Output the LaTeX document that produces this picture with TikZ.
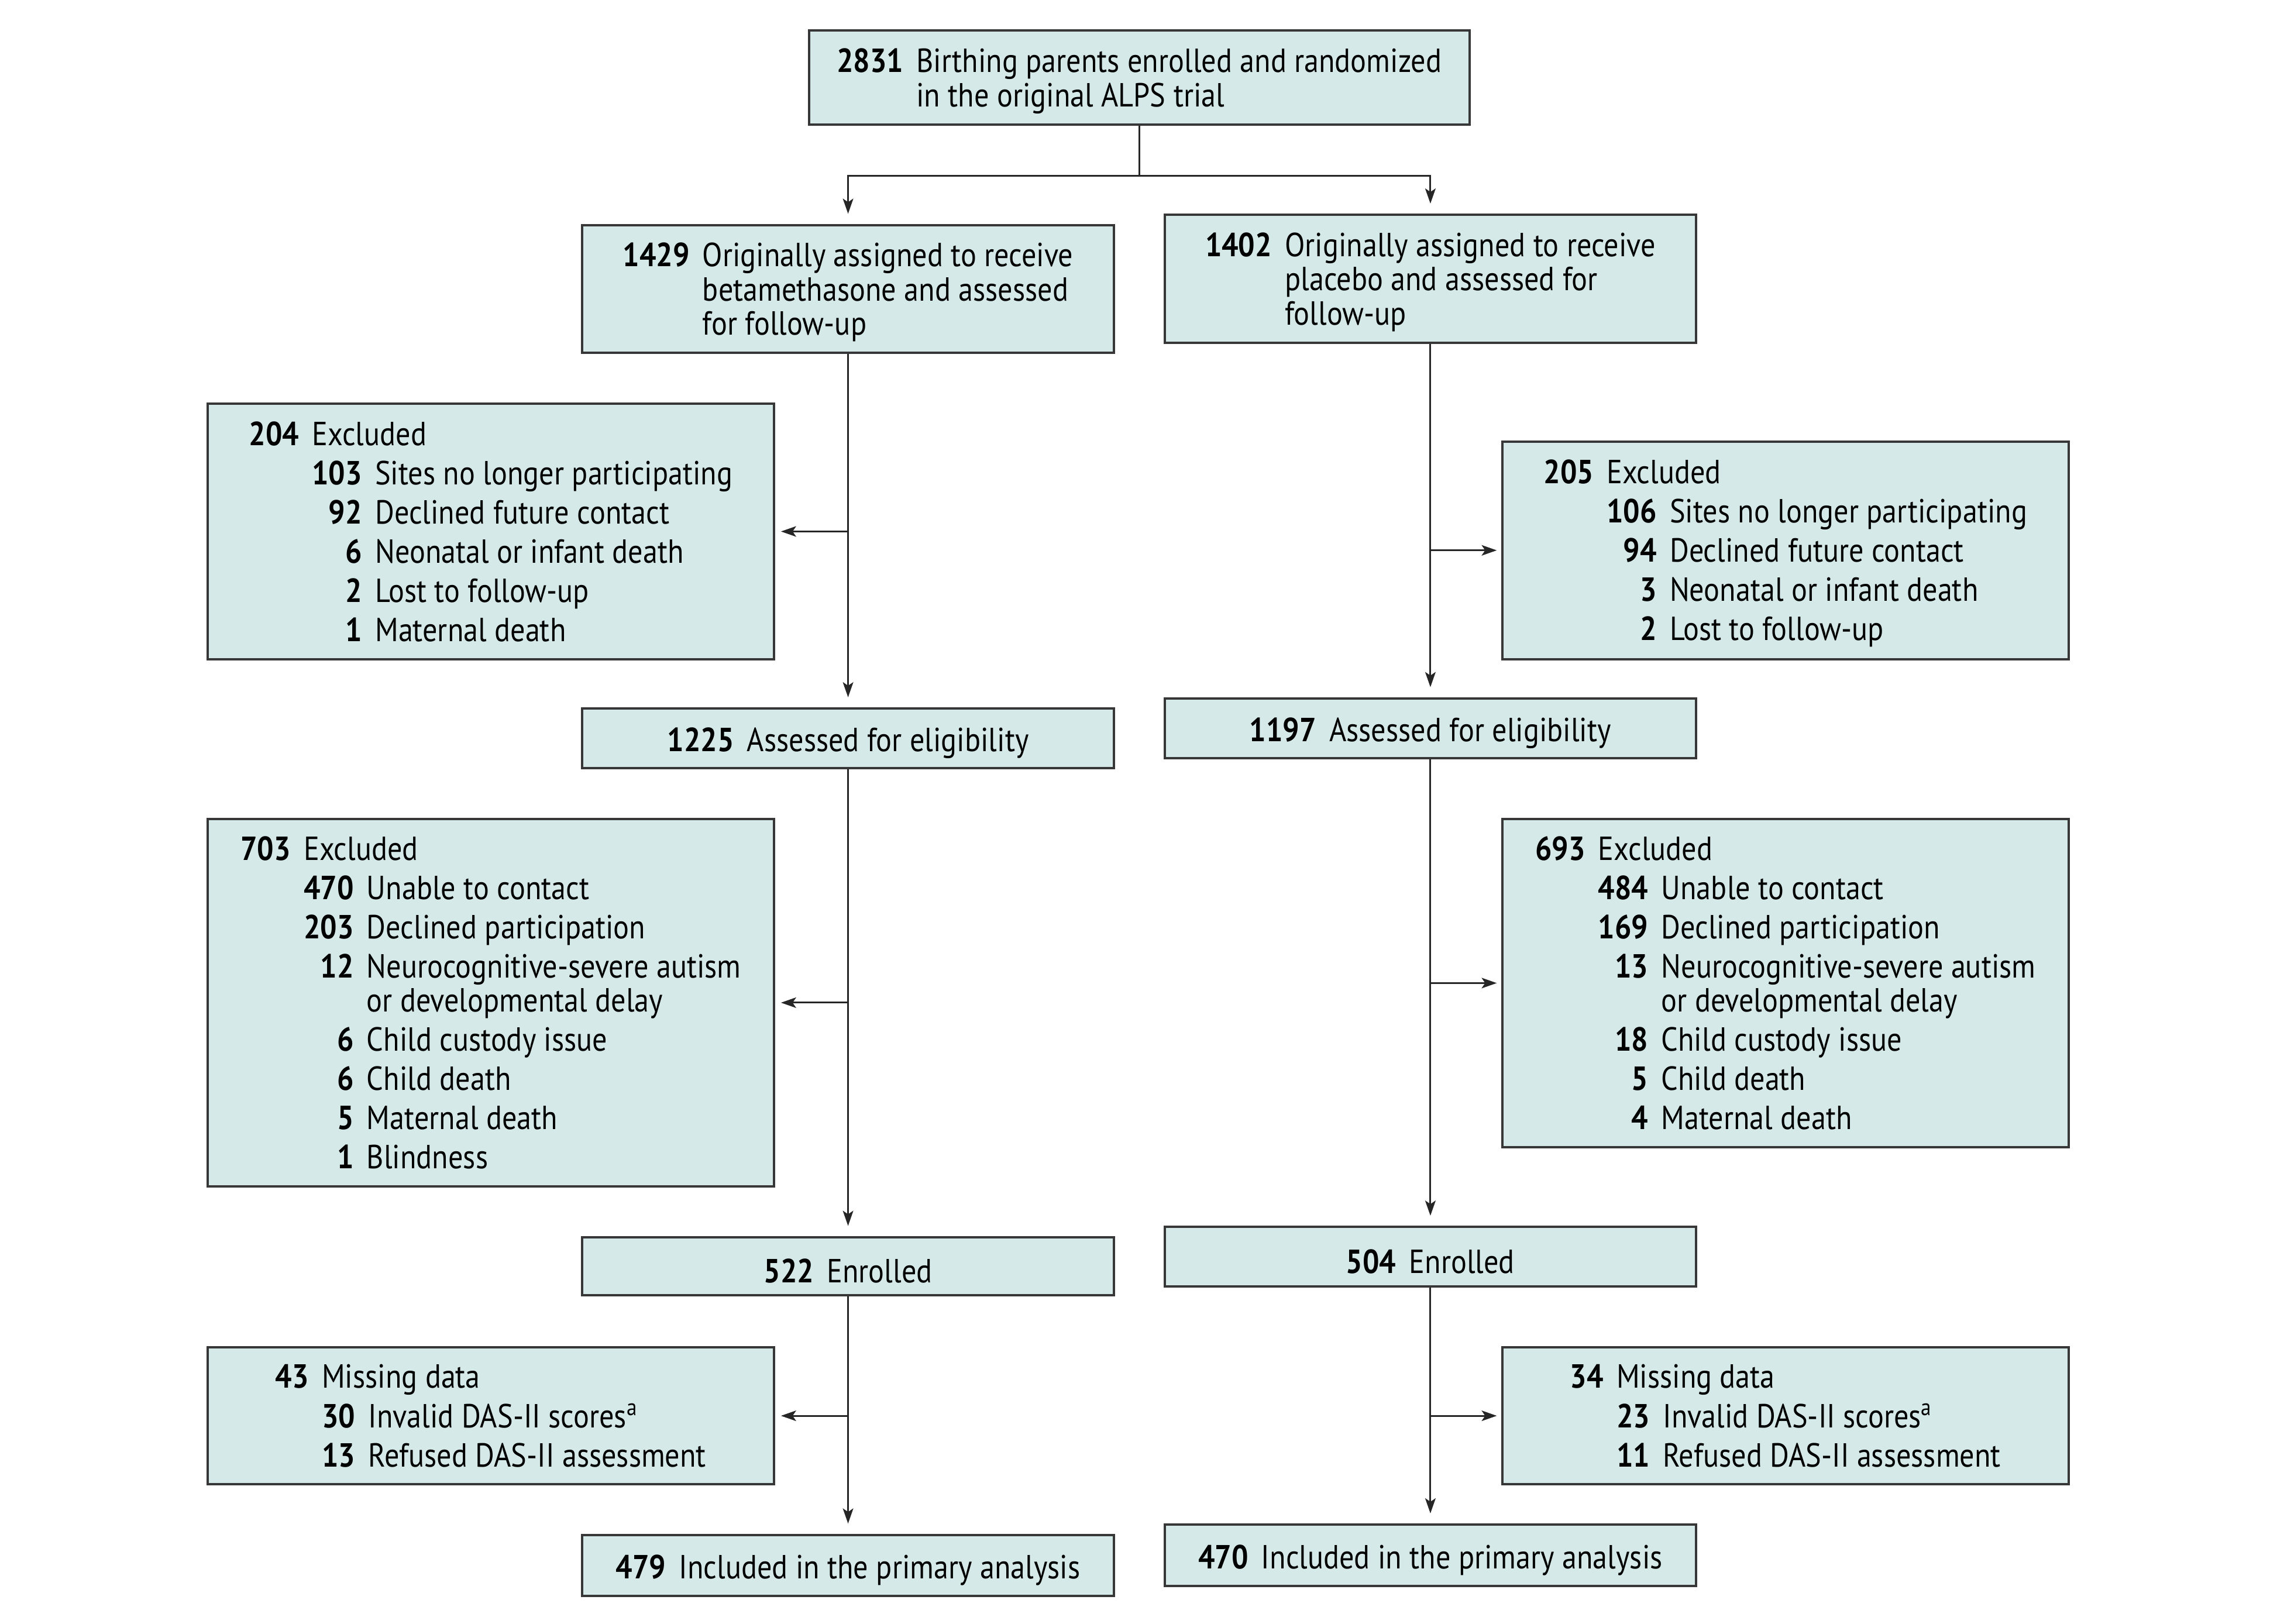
\documentclass[tikz,border=0pt]{standalone}
\usepackage{fontspec}
\setmainfont{PT Sans}[FakeStretch=0.88]
\usepackage{xcolor}
\usepackage{tikz}
\usetikzlibrary{arrows.meta, calc}
\definecolor{boxbg}{RGB}{214,233,233}
\definecolor{boxframe}{RGB}{55,55,55}
\newcommand{\num}[1]{\textbf{#1}}
\newcommand{\boxtext}[1]{\raisebox{-1.7pt}[\height][\depth]{#1}}

\begin{document}
\begin{tikzpicture}[
        x=0.5pt, y=-0.5pt,
        box/.style={draw=boxframe, fill=boxbg, rectangle, line width=0.8pt, minimum width=183pt, inner sep=0pt, align=left, font=\fontsize{11.5}{11.75}\selectfont},
        excl/.style={box, minimum width=195pt},
        arr/.style={-{Stealth[length=5.2pt, width=3.6pt, inset=1.2pt]}, line width=0.6pt, draw=black!85}
    ]
    \useasboundingbox (0,0) rectangle (1568,1118);

    % Randomized
    \node[box, minimum width=227.5pt, minimum height=32.5pt] (rand) at (784.5,53.5)
        {\boxtext{\begin{tabular}{@{}r@{\hspace{4.5pt}}l@{}}\num{2831} & Birthing parents enrolled and randomized\\ & in the original ALPS trial\end{tabular}}};

    % Betamethasone arm
    \node[box, minimum height=44pt] (betaAssign) at (584,199)
        {\boxtext{\begin{tabular}{@{}r@{\hspace{4.5pt}}l@{}}\num{1429} & Originally assigned to receive\\ & betamethasone and assessed\\ & for follow-up\end{tabular}}};
    \node[excl, minimum height=88pt] (betaExcl1) at (338,366)
        {\boxtext{\begin{tabular}{@{}r@{\hspace{4.5pt}}r@{\hspace{4.5pt}}l@{}}
        \num{204} & \multicolumn{2}{@{}l@{}}{Excluded}\\[1.75pt]
         & \num{103} & Sites no longer participating\\[1.75pt]
         & \num{92} & Declined future contact\\[1.75pt]
         & \num{6} & Neonatal or infant death\\[1.75pt]
         & \num{2} & Lost to follow-up\\[1.75pt]
         & \num{1} & Maternal death
        \end{tabular}}};
    \node[box, minimum height=20.5pt] (betaElig) at (584,508.5) {\boxtext{\num{1225}\hspace{4.5pt}Assessed for eligibility}};
    \node[excl, minimum height=126.5pt] (betaExcl2) at (338,690.5)
        {\boxtext{\begin{tabular}{@{}r@{\hspace{4.5pt}}r@{\hspace{4.5pt}}l@{}}
        \num{703} & \multicolumn{2}{@{}l@{}}{Excluded}\\[1.75pt]
         & \num{470} & Unable to contact\\[1.75pt]
         & \num{203} & Declined participation\\[1.75pt]
         & \num{12} & Neurocognitive-severe autism\\
         & & or developmental delay\\[1.75pt]
         & \num{6} & Child custody issue\\[1.75pt]
         & \num{6} & Child death\\[1.75pt]
         & \num{5} & Maternal death\\[1.75pt]
         & \num{1} & Blindness
        \end{tabular}}};
    \node[box, minimum height=20pt] (betaEnr) at (584,872) {\boxtext{\num{522}\hspace{4.5pt}Enrolled}};
    \node[excl, minimum height=47pt] (betaMiss) at (338,975)
        {\boxtext{\begin{tabular}{@{}r@{\hspace{4.5pt}}r@{\hspace{4.5pt}}l@{}}
        \num{43} & \multicolumn{2}{@{}l@{}}{Missing data}\\[1.75pt]
         & \num{30} & Invalid DAS-II scores\textsuperscript{a}\\[1.75pt]
         & \num{13} & Refused DAS-II assessment
        \end{tabular}}};
    \node[box, minimum height=21pt] (betaIncl) at (584,1078) {\boxtext{\num{479}\hspace{4.5pt}Included in the primary analysis}};

    % Placebo arm
    \node[box, minimum height=44pt] (plaAssign) at (985,192)
        {\boxtext{\begin{tabular}{@{}r@{\hspace{4.5pt}}l@{}}\num{1402} & Originally assigned to receive\\ & placebo and assessed for\\ & follow-up\end{tabular}}};
    \node[excl, minimum height=75pt] (plaExcl1) at (1229.5,379)
        {\boxtext{\begin{tabular}{@{}r@{\hspace{4.5pt}}r@{\hspace{4.5pt}}l@{}}
        \num{205} & \multicolumn{2}{@{}l@{}}{Excluded}\\[1.75pt]
         & \num{106} & Sites no longer participating\\[1.75pt]
         & \num{94} & Declined future contact\\[1.75pt]
         & \num{3} & Neonatal or infant death\\[1.75pt]
         & \num{2} & Lost to follow-up
        \end{tabular}}};
    \node[box, minimum height=20.5pt] (plaElig) at (985,501.5) {\boxtext{\num{1197}\hspace{4.5pt}Assessed for eligibility}};
    \node[excl, minimum height=113pt] (plaExcl2) at (1229.5,677)
        {\boxtext{\begin{tabular}{@{}r@{\hspace{4.5pt}}r@{\hspace{4.5pt}}l@{}}
        \num{693} & \multicolumn{2}{@{}l@{}}{Excluded}\\[1.75pt]
         & \num{484} & Unable to contact\\[1.75pt]
         & \num{169} & Declined participation\\[1.75pt]
         & \num{13} & Neurocognitive-severe autism\\
         & & or developmental delay\\[1.75pt]
         & \num{18} & Child custody issue\\[1.75pt]
         & \num{5} & Child death\\[1.75pt]
         & \num{4} & Maternal death
        \end{tabular}}};
    \node[box, minimum height=20.5pt] (plaEnr) at (985,865.5) {\boxtext{\num{504}\hspace{4.5pt}Enrolled}};
    \node[excl, minimum height=47pt] (plaMiss) at (1229.5,975)
        {\boxtext{\begin{tabular}{@{}r@{\hspace{4.5pt}}r@{\hspace{4.5pt}}l@{}}
        \num{34} & \multicolumn{2}{@{}l@{}}{Missing data}\\[1.75pt]
         & \num{23} & Invalid DAS-II scores\textsuperscript{a}\\[1.75pt]
         & \num{11} & Refused DAS-II assessment
        \end{tabular}}};
    \node[box, minimum height=21pt] (plaIncl) at (985,1071) {\boxtext{\num{470}\hspace{4.5pt}Included in the primary analysis}};

    % Randomization split
    \coordinate (split) at (rand.south |- 0,121);
    \draw[line width=0.6pt, draw=black!85] (rand.south) -- (split);
    \draw[arr, shorten >=3.5pt] (split) -| (betaAssign.north);
    \draw[arr, shorten >=3.5pt] (split) -| (plaAssign.north);

    % Main flow
    \draw[arr, shorten >=3.5pt] (betaAssign.south) -- (betaElig.north);
    \draw[arr, shorten >=3.5pt] (betaElig.south) -- (betaEnr.north);
    \draw[arr, shorten >=3.5pt] (betaEnr.south) -- (betaIncl.north);
    \draw[arr, shorten >=3.5pt] (plaAssign.south) -- (plaElig.north);
    \draw[arr, shorten >=3.5pt] (plaElig.south) -- (plaEnr.north);
    \draw[arr, shorten >=3.5pt] (plaEnr.south) -- (plaIncl.north);

    % Exclusions
    \draw[arr, shorten >=2pt] (betaAssign.south |- betaExcl1.east) -- (betaExcl1.east);
    \draw[arr, shorten >=2pt] (betaElig.south |- betaExcl2.east) -- (betaExcl2.east);
    \draw[arr, shorten >=2pt] (betaEnr.south |- betaMiss.east) -- (betaMiss.east);
    \draw[arr, shorten >=1.5pt] (plaAssign.south |- plaExcl1.west) -- (plaExcl1.west);
    \draw[arr, shorten >=1.5pt] (plaElig.south |- plaExcl2.west) -- (plaExcl2.west);
    \draw[arr, shorten >=1.5pt] (plaEnr.south |- plaMiss.west) -- (plaMiss.west);

\end{tikzpicture}
\end{document}
